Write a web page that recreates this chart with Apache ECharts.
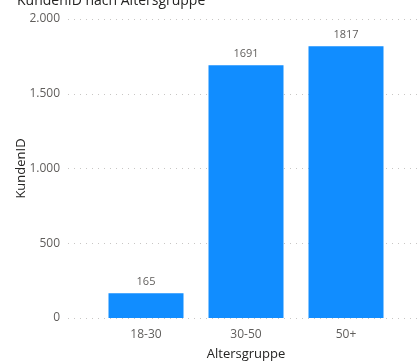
<!DOCTYPE html>
<html>
<head>
<meta charset="utf-8">
<script src="https://cdn.jsdelivr.net/npm/echarts@6/dist/echarts.min.js"></script>
<style>
  html, body { margin: 0; padding: 0; background: #fff; }
  #main { width: 417px; height: 361px; }
</style>
</head>
<body>
<div id="main"></div>
<script>
// data
var categories = ['18-30', '30-50', '50+'];
var kunden = [165, 1691, 1817];
var yTicks = [0, 500, 1000, 1500, 2000];

var FONT = '"Open Sans", "Noto Sans", sans-serif';

function fmt(v) {
  // german thousand separator
  return String(v).replace(/\B(?=(\d{3})+(?!\d))/g, '.');
}

var chart = echarts.init(document.getElementById('main'));

var option = {
  animation: false,
  title: {
    text: 'KundenID nach Altersgruppe',
    left: 12,
    top: -11,
    textStyle: { fontFamily: FONT, fontSize: 14, fontWeight: 'normal', color: '#252423' }
  },
  grid: [
    // background grid for the dotted lines
    { left: 68, right: 0, top: 19, bottom: 43, outerBoundsMode: 'none', containLabel: false },
    // bars
    { left: 96, right: 21, top: 19, bottom: 43, outerBoundsMode: 'none', containLabel: false }
  ],
  xAxis: [
    { type: 'value', gridIndex: 0, min: 0, max: 1, show: false },
    {
      type: 'category',
      gridIndex: 1,
      data: categories,
      axisLine: { show: false },
      axisTick: { show: false },
      axisLabel: { fontFamily: FONT, fontSize: 12, color: '#605E5C', margin: 11 },
      name: 'Altersgruppe',
      nameLocation: 'middle',
      nameGap: 30,
      nameTextStyle: { fontFamily: FONT, fontSize: 13, color: '#252423' }
    }
  ],
  yAxis: [
    {
      type: 'value',
      gridIndex: 0,
      min: 0,
      max: yTicks[yTicks.length - 1],
      interval: 500,
      axisLine: { show: false },
      axisTick: { show: false },
      axisLabel: {
        fontFamily: FONT, fontSize: 12, color: '#605E5C', margin: 8,
        formatter: function (v) { return fmt(v); }
      },
      splitLine: { lineStyle: { color: '#C8C6C4', type: [1, 5], width: 1 } },
      name: 'KundenID',
      nameLocation: 'middle',
      nameGap: 40,
      nameMoveOverlap: false,
      nameTextStyle: { fontFamily: FONT, fontSize: 13, color: '#252423' }
    },
    {
      type: 'value',
      gridIndex: 1,
      min: 0,
      max: yTicks[yTicks.length - 1],
      show: false
    }
  ],
  series: [
    {
      type: 'bar',
      xAxisIndex: 1,
      yAxisIndex: 1,
      data: kunden,
      barCategoryGap: '25%',
      itemStyle: { color: '#118DFF' },
      label: {
        show: true,
        position: 'top',
        distance: 6,
        fontFamily: FONT,
        fontSize: 11,
        color: '#605E5C'
      }
    }
  ]
};

chart.setOption(option);
</script>
</body>
</html>
